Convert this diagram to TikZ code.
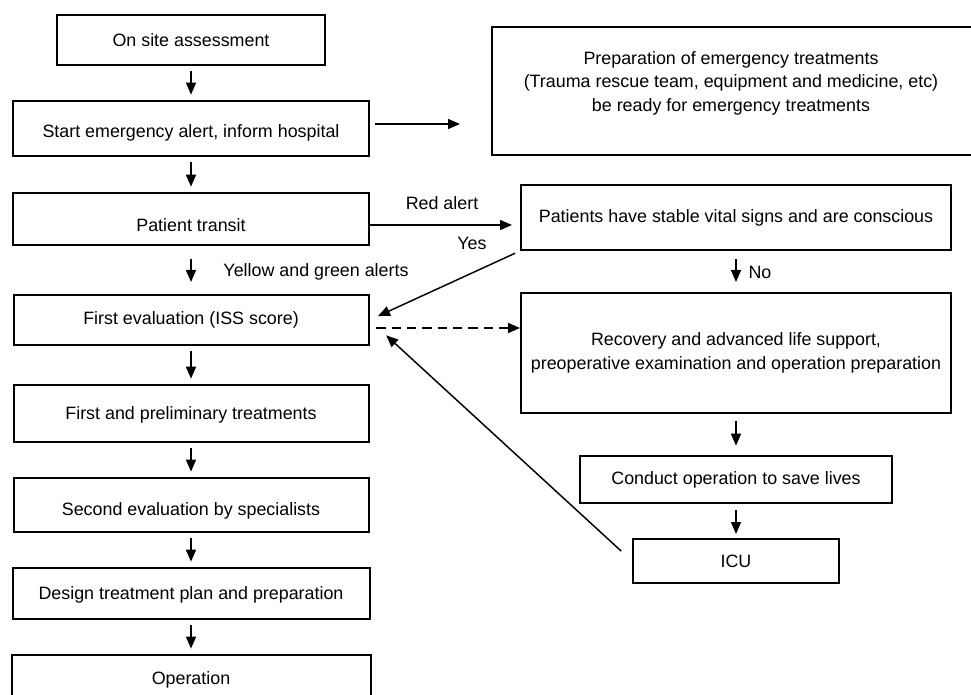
\documentclass[tikz,border=0pt]{standalone}
\usepackage{fontspec}
\setmainfont{Liberation Sans}
\usetikzlibrary{arrows.meta}

\tikzset{every picture/.style={line width=0.75pt}}
\tikzset{
  box/.style={draw, line width=1.5pt, inner sep=0pt, align=center},
  arr/.style={line width=1.1pt, -{Triangle[length=9pt,width=7.5pt]}, shorten <=4pt, shorten >=4pt},
  lbl/.style={inner sep=0.75pt}
}
\newcommand{\lowtext}[2]{\raisebox{-#1}[\height][\depth]{#2}}

\begin{document}
\begin{tikzpicture}[x=0.75pt,y=0.75pt,yscale=-1,xscale=1,font=\fontsize{13.4}{17.6}\selectfont]
\useasboundingbox (0,0) rectangle (971,695);

%Left column
\node (n1) [box, minimum width=201pt, minimum height=37.5pt] at (191,40) {On site assessment};
\node (n2) [box, minimum width=267pt, minimum height=41.25pt] at (191,128.5) {\lowtext{3.4pt}{Start emergency alert, inform hospital}};
\node (n3) [box, minimum width=267pt, minimum height=39pt] at (191,219) {\lowtext{4.5pt}{Patient transit}};
\node (n4) [box, minimum width=266.25pt, minimum height=37.5pt] at (191,320) {First evaluation (ISS score)};
\node (n5) [box, minimum width=266.25pt, minimum height=42.75pt] at (191,413.5) {\lowtext{1pt}{First and preliminary treatments}};
\node (n6) [box, minimum width=266.25pt, minimum height=40.5pt] at (191,505) {\lowtext{4.5pt}{Second evaluation by specialists}};
\node (n7) [box, minimum width=267.75pt, minimum height=38.25pt] at (191,593.5) {\lowtext{1pt}{Design treatment plan and preparation}};
\node (n8) [box, minimum width=269.25pt, minimum height=37.5pt] at (191,680) {Operation};

%Right column
\node (prep) [box, minimum width=369.75pt, minimum height=96pt] at (738.5,91) {};
% Text Node
\node (preptext) [lbl, align=center] at (731,83) {Preparation of emergency treatments\\(Trauma rescue team, equipment and medicine, etc)\\be ready for emergency treatments};
\node (stable) [box, minimum width=322.5pt, minimum height=48.75pt] at (736,217.5) {Patients have stable vital signs and are conscious};
\node (recov) [box, minimum width=322.5pt, minimum height=90pt] at (736,353) {Recovery and advanced life support,\\preoperative examination and operation preparation};
\node (conduct) [box, minimum width=234pt, minimum height=35.25pt] at (736,479.5) {Conduct operation to save lives};
\node (icu) [box, minimum width=154.5pt, minimum height=33pt] at (736,561) {ICU};

\coordinate (prepin) at (460,124);
\coordinate (redy) at (0,225);
\coordinate (dashy) at (0,328);

%Arrows
\foreach \a/\b in {n1/n2,n2/n3,n4/n5,n5/n6,n6/n7,n7/n8}
  \draw[arr] (\a.south) -- (\a.south |- \b.north);
\draw[arr, shorten <=9.5pt, shorten >=9pt] (n3.south) -- (n3.south |- n4.north);
\draw[arr, shorten >=0pt] (n2.east |- prepin) -- (prepin);
\draw[arr, shorten <=0pt, shorten >=6pt] (n3.east |- redy) -- (stable.west |- redy);
\draw[arr, shorten <=4pt, shorten >=7pt] (stable.south west) -- (n4.east);
\draw[arr, dashed, dash pattern=on 7pt off 4.5pt, shorten <=5pt, shorten >=0pt] (n4.east |- dashy) -- (recov.west |- dashy);
\draw[arr, shorten <=11pt, shorten >=17pt] (icu.west) -- (n4.east);
\draw[arr, shorten <=6pt, shorten >=7.5pt] (stable.south) -- (recov.north);
\draw[arr, shorten <=5pt, shorten >=7pt] (recov.south) -- (conduct.north);
\draw[arr, shorten <=4.5pt, shorten >=3pt] (conduct.south) -- (icu.north);

% Text Node
\node (redlbl) [lbl] at (442,203) {Red alert};
% Text Node
\node (yeslbl) [lbl] at (472,243) {Yes};
% Text Node
\node (yglbl) [lbl] at (316,272) {Yellow and green alerts};
% Text Node
\node (nolbl) [lbl] at (760,272) {No};

\end{tikzpicture}
\end{document}
